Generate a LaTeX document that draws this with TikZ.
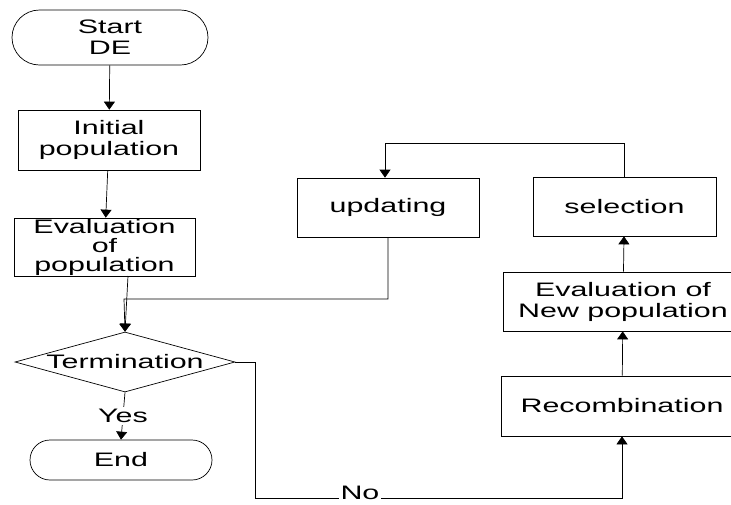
\documentclass[tikz,border=0pt]{standalone}
\usepackage{fontspec}
\setmainfont{Liberation Sans}[FakeStretch=1.56]
\usetikzlibrary{shapes.geometric}
\usetikzlibrary{shapes.misc}
\usetikzlibrary{arrows.meta}
\tikzset{
	every node/.style = {font=\fontsize{19.5}{21}\selectfont, align=center, inner sep=0pt},
	block/.style = {draw, rectangle, minimum height=59pt},
	terminal/.style = {draw, rounded rectangle},
	decision/.style = {draw, diamond, minimum width=220pt, minimum height=60pt},
	line/.style = {draw, -{Triangle[length=8pt,width=11pt]}},
	tag/.style = {fill=white, inner sep=2pt}
}
\begin{document}
\begin{tikzpicture}[x=1pt, y=-1pt, line width=0.7pt]
		\clip (0,0) rectangle (731,504);
		% left column
		\node[terminal, minimum width=196pt, minimum height=55pt] (start) at (110,37.5) {Start\\DE};
		\node[block, minimum width=182pt, minimum height=60pt] (init) at (109,140) {Initial\\population};
		\node[block, minimum width=181pt, minimum height=58pt] (eval) at (104.5,247) {Evaluation\\[-2pt]of\\[-2pt]population};
		\node[decision] (term) at (125,362) {\makebox[0pt]{Termination}};
		\node[terminal, minimum width=182pt, minimum height=40pt] (end) at (121,460) {End};
		% right column
		\node[block, minimum width=182pt] (upd) at (388,207.5) {updating};
		\node[block, minimum width=183pt] (sel) at (624.5,206.5) {selection};
		\node[block, minimum width=240pt] (evalnew) at (623,301.5) {Evaluation of\\New population};
		\node[block, minimum width=242pt, minimum height=60pt] (recomb) at (622,406) {Recombination};
		% bends
		\coordinate (evalout) at (128,276);
		\coordinate (merge) at (124,299);
		\coordinate (loop) at (385,143);
		\coordinate (nocorner) at (255,498);
		% connectors
		\draw[line] (start) -- (init);
		\draw[line] (init) -- (eval);
		\draw[line] (evalout) -- (term.north);
		\draw[line] (upd.south) |- (merge) -- (term.north);
		\draw[line] (term.south) -- node[tag] {Yes} (end.north);
		\draw[line] (term.east) -| (nocorner) -| node[tag, pos=0.143, yshift=5pt] {No} (recomb.south);
		\draw[line] (recomb) -- (evalnew);
		\draw[line] (evalnew) -- (sel);
		\draw[line] (sel.north) |- (loop) -- (loop |- upd.north);
	\end{tikzpicture}
\end{document}
